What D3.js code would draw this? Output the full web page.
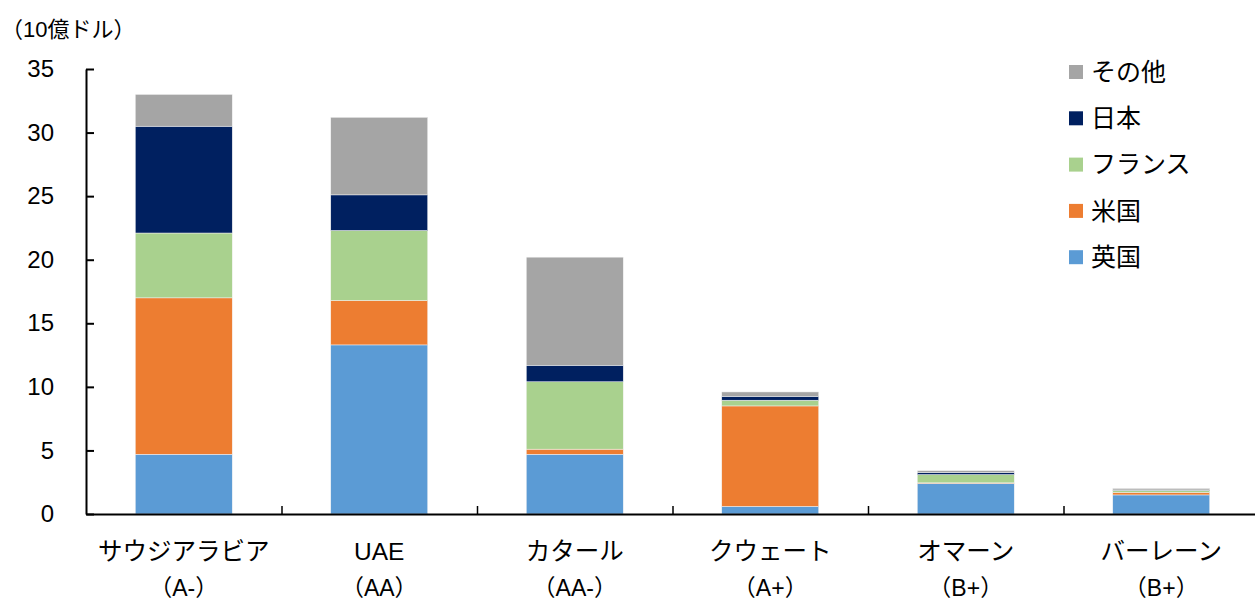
<!DOCTYPE html>
<html>
<head>
<meta charset="utf-8">
<script src="https://cdn.jsdelivr.net/npm/d3@7"></script>
<style>
  body { margin: 0; background: #fff; }
  svg { display: block; font-family: "Liberation Sans", "Noto Sans CJK JP", sans-serif; }
</style>
</head>
<body>
<div id="chart"></div>
<script>
// categories and ratings
const categories = ['サウジアラビア', 'UAE', 'カタール', 'クウェート', 'オマーン', 'バーレーン'];
const ratings = ['（A-）', '（AA）', '（AA-）', '（A+）', '（B+）', '（B+）'];

// series values (10億ドル), stacked bottom -> top
const uk = [4.7, 13.3, 4.7, 0.6, 2.4, 1.5];
const us = [12.3, 3.5, 0.4, 7.9, 0.05, 0.2];
const france = [5.1, 5.5, 5.3, 0.45, 0.65, 0.16];
const japan = [8.4, 2.8, 1.3, 0.3, 0.16, 0.03];
const others = [2.5, 6.1, 8.5, 0.35, 0.15, 0.12];

const seriesNames = ['英国', '米国', 'フランス', '日本', 'その他'];
const seriesColors = ['#5B9BD5', '#ED7D31', '#A9D18E', '#002060', '#A5A5A5'];
const yTicks = [0, 5, 10, 15, 20, 25, 30, 35];
const unitLabel = '（10億ドル）';

const width = 1255;
const height = 601;
const margin = { top: 69, bottom: 87, left: 86, right: -4 };

const svg = d3.select('#chart').append('svg')
  .attr('width', width)
  .attr('height', height);

const seriesValues = [uk, us, france, japan, others];
const rows = categories.map((c, i) => {
  const row = { cat: c };
  seriesNames.forEach((s, j) => { row[s] = seriesValues[j][i]; });
  return row;
});
const stacked = d3.stack().keys(seriesNames)(rows);

const plotRight = width - margin.right;
const x = d3.scaleBand()
  .domain(categories)
  .range([margin.left, plotRight])
  .paddingInner(0.504)
  .paddingOuter(0.252);

const y = d3.scaleLinear()
  .domain([0, 35])
  .range([height - margin.bottom, margin.top]);

/* ---------- bars ---------- */
svg.append('g')
  .selectAll('g')
  .data(stacked)
  .enter()
  .append('g')
  .attr('fill', (d, i) => seriesColors[i])
  .selectAll('rect')
  .data(d => d)
  .enter()
  .append('rect')
  .attr('x', d => x(d.data.cat))
  .attr('width', x.bandwidth())
  .attr('y', d => y(d[1]))
  .attr('height', d => y(d[0]) - y(d[1]))
  .attr('stroke', '#f4f4f4')
  .attr('stroke-width', 0.5);

/* ---------- y axis ---------- */
const yAxis = svg.append('g')
  .attr('transform', 'translate(' + margin.left + ',0)')
  .call(d3.axisLeft(y).tickValues(yTicks).tickSize(-8).tickPadding(32).tickSizeOuter(0));
yAxis.select('.domain').attr('stroke', '#000').attr('stroke-width', 2);
yAxis.selectAll('.tick line').attr('stroke', '#000').attr('stroke-width', 2);
yAxis.selectAll('.tick text')
  .style('font-size', '24px')
  .attr('fill', '#000');

/* ---------- x axis: boundary ticks between categories ---------- */
const xIdx = d3.scaleLinear().domain([0, categories.length]).range([margin.left, plotRight]);
const xAxis = svg.append('g')
  .attr('transform', 'translate(0,' + (height - margin.bottom) + ')')
  .call(d3.axisBottom(xIdx).tickValues([1, 2, 3, 4, 5]).tickSize(-8).tickFormat('').tickSizeOuter(0));
xAxis.select('.domain').attr('stroke', '#000').attr('stroke-width', 2);
xAxis.selectAll('.tick line').attr('stroke', '#000').attr('stroke-width', 1.5);

/* ---------- category labels ---------- */
const labels = svg.append('g');
labels.selectAll('.cat-label')
  .data(categories)
  .enter()
  .append('text')
  .attr('class', 'cat-label')
  .attr('x', d => x(d) + x.bandwidth() / 2)
  .attr('y', 560)
  .attr('text-anchor', 'middle')
  .style('font-size', '24.5px')
  .text(d => d);

labels.selectAll('.rating-label')
  .data(ratings)
  .enter()
  .append('text')
  .attr('class', 'rating-label')
  .attr('x', (d, i) => x(categories[i]) + x.bandwidth() / 2)
  .attr('y', 596)
  .attr('text-anchor', 'middle')
  .style('font-size', '23px')
  .text(d => d);

/* ---------- unit label ---------- */
svg.append('text')
  .attr('x', 1)
  .attr('y', 37)
  .style('font-size', '22px')
  .text(unitLabel);

/* ---------- legend ---------- */
const legendOrder = seriesNames.slice().reverse();
const legend = svg.append('g')
  .selectAll('g')
  .data(legendOrder)
  .enter()
  .append('g')
  .attr('transform', (d, i) => 'translate(1069,' + (72 + i * 46.3) + ')');

legend.append('rect')
  .attr('x', 0)
  .attr('y', -7)
  .attr('width', 14)
  .attr('height', 14)
  .attr('fill', d => seriesColors[seriesNames.indexOf(d)]);

legend.append('text')
  .attr('x', 22)
  .attr('y', 0)
  .attr('dy', '0.35em')
  .style('font-size', '25px')
  .text(d => d);
</script>
</body>
</html>
